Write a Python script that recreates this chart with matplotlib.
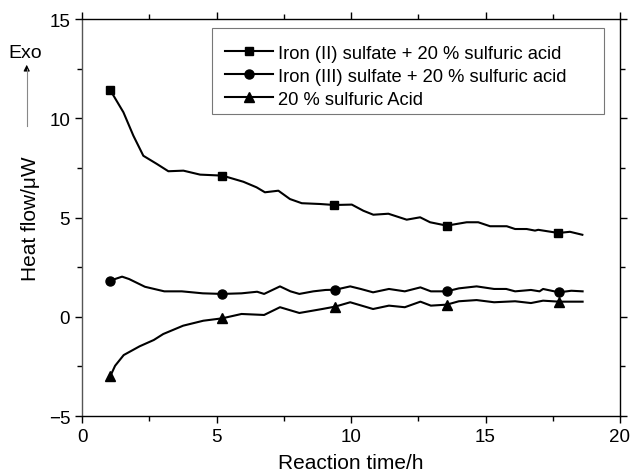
import numpy as np
import matplotlib
matplotlib.use("Agg")
import matplotlib.pyplot as plt
from matplotlib.ticker import MultipleLocator
from matplotlib.patches import Rectangle

plt.rcParams['font.family'] = ['Liberation Sans', 'DejaVu Sans']

# Iron (II) sulfate + 20 % sulfuric acid
t_fe2 = [1.04, 1.54, 1.91, 2.28, 2.78, 3.21, 3.77, 4.39, 5.22, 6.00, 6.49, 6.80,
         7.30, 7.73, 8.17, 8.85, 9.38, 10.03, 10.46, 10.83, 11.39, 12.07, 12.57,
         12.94, 13.56, 14.30, 14.73, 15.17, 15.79, 16.10, 16.53, 16.84, 16.96,
         17.71, 18.14, 18.60]
q_fe2 = [11.44, 10.30, 9.12, 8.11, 7.70, 7.33, 7.36, 7.16, 7.11, 6.80, 6.52, 6.27,
         6.35, 5.93, 5.72, 5.68, 5.63, 5.65, 5.34, 5.14, 5.19, 4.89, 5.01,
         4.76, 4.59, 4.76, 4.76, 4.56, 4.56, 4.42, 4.42, 4.34, 4.38,
         4.22, 4.28, 4.13]
mk_fe2 = [0, 8, 16, 24, 33]

# Iron (III) sulfate + 20 % sulfuric acid
t_fe3 = [1.05, 1.49, 1.75, 2.34, 3.06, 3.71, 4.49, 5.21, 5.93, 6.51, 6.77, 7.36,
         7.75, 8.08, 8.60, 9.06, 9.41, 9.97, 10.36, 10.82, 11.41, 12.00, 12.58,
         12.97, 13.56, 14.01, 14.67, 15.32, 15.77, 16.10, 16.69, 17.01, 17.14,
         17.73, 18.19, 18.61]
q_fe3 = [1.82, 2.02, 1.90, 1.51, 1.28, 1.28, 1.18, 1.15, 1.18, 1.26, 1.15, 1.53,
         1.28, 1.15, 1.28, 1.35, 1.36, 1.53, 1.40, 1.23, 1.40, 1.28, 1.48,
         1.28, 1.28, 1.43, 1.53, 1.40, 1.40, 1.28, 1.35, 1.28, 1.40,
         1.23, 1.31, 1.28]
mk_fe3 = [0, 7, 16, 24, 33]

# 20 % sulfuric acid
t_acid = [1.05, 1.23, 1.55, 2.14, 2.67, 3.02, 3.76, 4.51, 5.21, 5.93, 6.77, 7.36,
          8.08, 8.93, 9.41, 9.97, 10.82, 11.41, 12.00, 12.58, 12.97, 13.56,
          14.01, 14.67, 15.32, 16.10, 16.69, 17.14, 17.73, 18.61]
q_acid = [-3.00, -2.47, -1.93, -1.49, -1.17, -0.87, -0.45, -0.20, -0.08, 0.14, 0.09, 0.48,
          0.19, 0.39, 0.51, 0.73, 0.39, 0.56, 0.48, 0.76, 0.56, 0.61,
          0.78, 0.84, 0.73, 0.78, 0.69, 0.81, 0.76, 0.76]
mk_acid = [0, 8, 14, 21, 28]

fig = plt.figure(figsize=(6.32, 4.77), dpi=100)
ax = fig.add_axes([82 / 632, 1 - 417 / 477, 538 / 632, 397 / 477])

ax.plot(t_fe2, q_fe2, '-', color='black', lw=1.5, marker='s', ms=6,
        markevery=mk_fe2, label='Iron (II) sulfate + 20 % sulfuric acid')
ax.plot(t_fe3, q_fe3, '-', color='black', lw=1.5, marker='o', ms=6.5,
        markevery=mk_fe3, label='Iron (III) sulfate + 20 % sulfuric acid')
ax.plot(t_acid, q_acid, '-', color='black', lw=1.5, marker='^', ms=7,
        markevery=mk_acid, label='20 % sulfuric Acid')

ax.set_xlim(0, 20)
ax.set_ylim(-5, 15)
ax.xaxis.set_major_locator(MultipleLocator(5))
ax.xaxis.set_minor_locator(MultipleLocator(2.5))
ax.yaxis.set_major_locator(MultipleLocator(5))
ax.yaxis.set_minor_locator(MultipleLocator(2.5))
ax.tick_params(which='both', direction='out', top=True, right=True,
               labeltop=False, labelright=False, width=1, labelsize=13.5)
ax.tick_params(which='major', length=5)
ax.tick_params(which='minor', length=3.5)
for s in ax.spines.values():
    s.set_linewidth(1)
ax.spines['left'].set_color('#555555')

ax.set_xlabel('Reaction time/h', fontsize=15, labelpad=6)
ax.set_ylabel('Heat flow/\u03bcW', fontsize=15, labelpad=6)

# legend box drawn by hand, it is wider than the entries
ax.add_patch(Rectangle((0.2416, 0.7607), 0.7284, 0.2163, transform=ax.transAxes,
                       facecolor='white', edgecolor='#777777', lw=0.8, zorder=4))
leg = ax.legend(loc='upper left', bbox_to_anchor=(0.266, 0.935), fontsize=13.2,
                frameon=False, handlelength=2.6, handletextpad=0.3,
                borderpad=0, borderaxespad=0, labelspacing=0.33)
leg.set_zorder(5)

# Exo arrow on the left
fig.text(25 / 632, 1 - 54 / 477, 'Exo', ha='center', va='center', fontsize=14)
fig.add_artist(plt.Line2D([26.7 / 632, 26.7 / 632], [1 - 127 / 477, 1 - 70 / 477],
                          color='#888888', lw=0.8))
ax.annotate('', xy=(26.7 / 632, 1 - 63 / 477), xycoords='figure fraction',
            xytext=(26.7 / 632, 1 - 72 / 477), textcoords='figure fraction',
            arrowprops=dict(arrowstyle='-|>', color='black', lw=0.8,
                            mutation_scale=9))

fig.savefig('out.png', dpi=100)
